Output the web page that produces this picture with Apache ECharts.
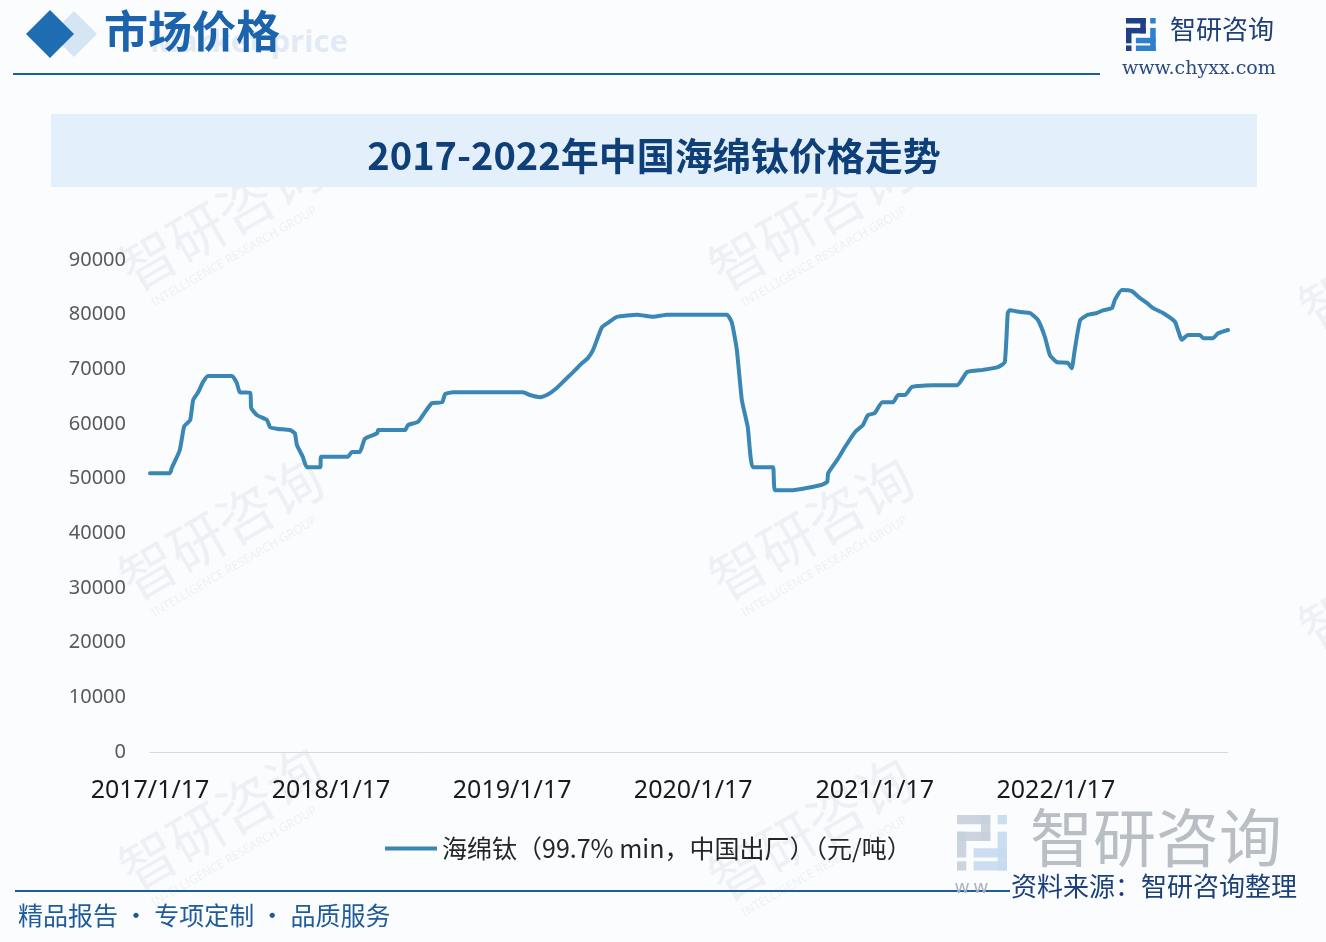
<!DOCTYPE html>
<html>
<head>
<meta charset="utf-8">
<script src="https://cdn.jsdelivr.net/npm/echarts@6/dist/echarts.min.js"></script>
<style>
html,body{margin:0;padding:0;background:#fbfcfe;}
#chart{width:1326px;height:942px;}
</style>
</head>
<body>
<div id="chart"></div>
<script>
// ---- data ----
const dates = [
'2017/1/17','2017/2/26','2017/3/2','2017/3/18','2017/3/27','2017/4/8','2017/4/14','2017/4/24','2017/5/4','2017/5/14',
'2017/7/1','2017/7/11','2017/7/17','2017/8/7','2017/8/9','2017/8/21','2017/9/10','2017/9/16','2017/10/2','2017/10/26',
'2017/11/5','2017/11/9','2017/11/21','2017/11/29','2017/12/26','2017/12/28','2018/2/20','2018/2/28','2018/3/16','2018/3/26',
'2018/4/20','2018/4/22','2018/6/15','2018/6/21','2018/7/11','2018/7/21','2018/8/8','2018/8/29','2018/9/4','2018/9/20',
'2019/2/8','2019/2/22','2019/3/14','2019/3/28','2019/4/17','2019/5/3','2019/5/20','2019/6/3','2019/6/19','2019/6/29',
'2019/7/9','2019/7/17','2019/7/29','2019/8/16','2019/9/26','2019/10/28','2019/11/25','2020/3/25','2020/4/4','2020/4/14',
'2020/4/24','2020/5/6','2020/5/16','2020/6/14','2020/6/26','2020/6/30','2020/8/5','2020/9/29','2020/10/13','2020/10/15',
'2020/11/2','2020/11/18','2020/12/8','2020/12/24','2021/1/3','2021/1/17','2021/2/1','2021/2/23','2021/3/5','2021/3/19',
'2021/4/2','2021/5/14','2021/7/2','2021/7/22','2021/8/23','2021/9/22','2021/10/6','2021/10/12','2021/10/16','2021/11/6',
'2021/11/26','2021/12/12','2021/12/26','2022/1/5','2022/1/19','2022/2/10','2022/2/18','2022/2/24','2022/3/7','2022/3/23',
'2022/4/10','2022/4/22','2022/5/10','2022/5/16','2022/5/30','2022/6/19','2022/7/6','2022/7/20','2022/8/1','2022/8/21',
'2022/9/14','2022/9/28','2022/10/10','2022/11/3','2022/11/10','2022/11/30','2022/12/10','2022/12/30'
];
const prices = [
51000,51000,52000,55200,59600,60700,64400,65800,67700,68800,
68800,67500,65800,65700,62900,61600,60700,59400,59100,58900,
58300,56200,54000,52100,52100,54000,54000,54900,54900,57300,
58300,58900,58900,59800,60400,61600,63800,64000,65500,65800,
65800,65300,64900,65300,66600,68000,69500,70800,72100,73500,
75900,77700,78500,79600,80000,79600,80000,80000,78500,73500,
64400,59400,52100,52100,52100,47900,47900,48800,49400,51000,
53400,55800,58500,59800,61600,62000,64000,64000,65300,65300,
66800,67100,67100,69500,69900,70400,71300,80300,80800,80500,
80300,79000,75900,72600,71300,71200,70200,73500,79000,80000,
80300,80800,81200,82700,84500,84300,83000,82100,81200,80300,
78700,75400,76300,76300,75700,75700,76600,77200
];
const tickLabels = ['2017/1/17','2018/1/17','2019/1/17','2020/1/17','2021/1/17','2022/1/17'];
const seriesName = '海绵钛（99.7% min，中国出厂）（元/吨）';
const chartTitle = '2017-2022年中国海绵钛价格走势';

const chart = echarts.init(document.getElementById('chart'), null, {renderer:'canvas'});

function diamond(cx, cy, r, color, z){
  return {type:'polygon', z:z||1, shape:{points:[[cx,cy-r],[cx+r,cy],[cx,cy+r],[cx-r,cy]]}, style:{fill:color}};
}
function logoIcon(x, y, s, c1, c2, op){
  return {type:'group', x:x, y:y, scaleX:s, scaleY:s, children:[
    {type:'rect', shape:{x:0,y:0,width:18,height:5}, style:{fill:c1, opacity:op}},
    {type:'rect', shape:{x:13,y:0,width:5,height:14}, style:{fill:c1, opacity:op}},
    {type:'rect', shape:{x:0,y:9,width:18,height:5}, style:{fill:c1, opacity:op}},
    {type:'rect', shape:{x:0,y:9,width:5,height:14}, style:{fill:c1, opacity:op}},
    {type:'rect', shape:{x:0,y:25,width:5,height:5}, style:{fill:c1, opacity:op}},
    {type:'rect', shape:{x:22,y:0,width:5,height:5}, style:{fill:c2, opacity:op}},
    {type:'rect', shape:{x:22,y:9,width:5,height:21}, style:{fill:c2, opacity:op}},
    {type:'rect', shape:{x:9,y:18,width:18,height:5}, style:{fill:c2, opacity:op}},
    {type:'rect', shape:{x:9,y:25,width:18,height:5}, style:{fill:c2, opacity:op}}
  ]};
}
function watermark(x, y){
  return {type:'group', x:x, y:y, rotation:Math.PI/6, z:0, children:[
    {type:'text', x:0, y:0, style:{text:'智研咨询', font:'normal 56px "Noto Sans CJK SC"', fill:'rgba(205,214,226,0.3)'}},
    {type:'text', x:10, y:62, style:{text:'INTELLIGENCE RESEARCH GROUP', font:'normal 12px "Noto Sans"', fill:'rgba(205,214,226,0.3)'}}
  ]};
}

const option = {
  backgroundColor:'#fbfcfe',
  animation:false,
  grid:{left:150, right:98, top:260, bottom:190},
  xAxis:{
    type:'time',
    min:'2017/1/17',
    max:'2022/12/30',
    axisLine:{show:true, lineStyle:{color:'#d9d9d9', width:1}},
    axisTick:{show:false},
    splitLine:{show:false},
    axisLabel:{
      customValues: tickLabels,
      formatter:'{yyyy}/{M}/{d}',
      color:'#1a1a1a',
      fontSize:25,
      fontFamily:'"Noto Sans", "Open Sans", sans-serif',
      margin:26,
      hideOverlap:false
    }
  },
  yAxis:{
    type:'value', min:0, max:90000, interval:10000,
    axisLine:{show:false}, axisTick:{show:false}, splitLine:{show:false},
    axisLabel:{color:'#595959', fontSize:20, fontFamily:'"Noto Sans", "Open Sans", sans-serif', margin:24,
      formatter:function(v){return String(v);}}
  },
  legend:{
    left:380, top:831,
    itemWidth:52, itemHeight:4, itemGap:8,
    icon:'rect',
    textStyle:{fontSize:25, color:'#262626', fontFamily:'"Noto Sans CJK SC", sans-serif'},
    data:[seriesName]
  },
  series:[{
    name:seriesName,
    type:'line',
    data: dates.map((d,i)=>[d, prices[i]]),
    showSymbol:false,
    smooth:0.15,
    lineStyle:{color:'#3a86b4', width:4, join:'round', cap:'round'},
    itemStyle:{color:'#3a86b4'},
    z:5
  }],
  graphic:[
    watermark(110, 250), watermark(700, 250), watermark(110, 560), watermark(700, 560),
    watermark(1290, 290), watermark(1290, 610), watermark(110, 850), watermark(700, 860),
    // header
    diamond(74, 34, 23, '#d5e5f4', 2),
    diamond(50, 34, 24, '#1e6db3', 3),
    {type:'text', x:348, y:43, z:2, style:{text:'Market price', font:'bold 31px "Noto Sans"', fill:'#e1eaf5', align:'right', verticalAlign:'middle'}},
    {type:'text', x:104, y:9, z:3, style:{text:'市场价格', font:'bold 44px "Noto Sans CJK SC"', fill:'#1b63ac'}},
    {type:'line', z:3, shape:{x1:13,y1:74,x2:1100,y2:74}, style:{stroke:'#1f5f99', lineWidth:2}},
    logoIcon(1126, 18, 1.1, '#1f3f86', '#2f7fd0', 1),
    {type:'text', x:1170, y:16, z:3, style:{text:'智研咨询', font:'normal 26px "Noto Sans CJK SC"', fill:'#1f3f7a'}},
    {type:'text', x:1122, y:60, z:3, style:{text:'www.chyxx.com', font:'normal 19px "DejaVu Serif"', fill:'#2a4a80'}},
    // title band
    {type:'rect', z:1, shape:{x:51,y:114,width:1206,height:73}, style:{fill:'#e3f0fb'}},
    {type:'text', x:654, y:156, z:2, style:{text:chartTitle, font:'bold 38px "Noto Sans CJK SC"', fill:'#0f3f78', align:'center', verticalAlign:'middle'}},
    // bottom-right large logo watermark
    logoIcon(957, 815, 1.85, '#c7d0dc', '#c5d9ef', 0.9),
    {type:'text', x:1030, y:806, z:2, style:{text:'智研咨询', font:'normal 63px "Noto Sans CJK SC"', fill:'#b9bdc4'}},
    // footer
    {type:'line', z:3, shape:{x1:15,y1:891,x2:1010,y2:891}, style:{stroke:'#1f5f99', lineWidth:2}},
    {type:'text', x:955, y:879, z:3, style:{text:'w w', font:'normal 18px "Noto Sans"', fill:'#aab2be'}},
    {type:'text', x:1011, y:873, z:3, style:{text:'资料来源：智研咨询整理', font:'normal 26px "Noto Sans CJK SC"', fill:'#1a3f7a'}},
    {type:'text', x:18, y:903, z:3, style:{text:'精品报告 · 专项定制 · 品质服务', font:'normal 25px "Noto Sans CJK SC"', fill:'#1f5b9a'}}
  ]
};
chart.setOption(option);
</script>
</body>
</html>
